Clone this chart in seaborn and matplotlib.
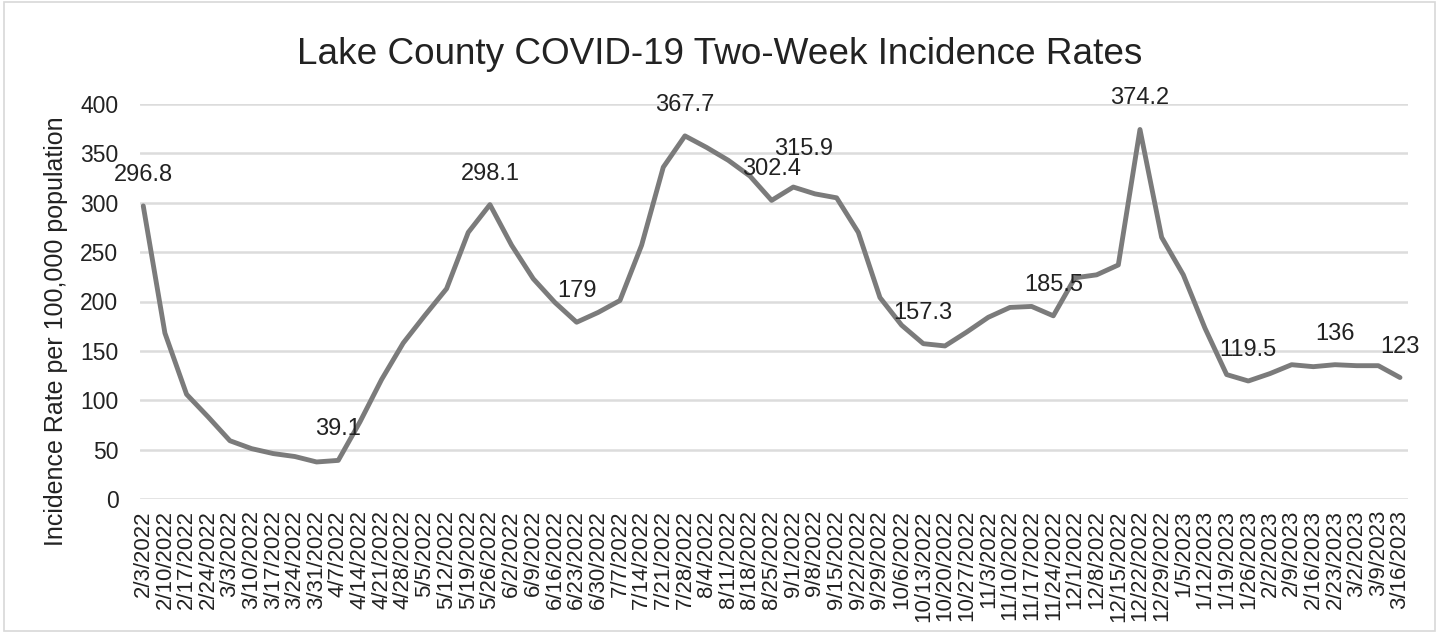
import matplotlib
matplotlib.use("Agg")
import matplotlib.pyplot as plt
import seaborn as sns
import pandas as pd
from matplotlib.patches import Rectangle

dates = ["2/3/2022", "2/10/2022", "2/17/2022", "2/24/2022", "3/3/2022", "3/10/2022",
         "3/17/2022", "3/24/2022", "3/31/2022", "4/7/2022", "4/14/2022", "4/21/2022",
         "4/28/2022", "5/5/2022", "5/12/2022", "5/19/2022", "5/26/2022", "6/2/2022",
         "6/9/2022", "6/16/2022", "6/23/2022", "6/30/2022", "7/7/2022", "7/14/2022",
         "7/21/2022", "7/28/2022", "8/4/2022", "8/11/2022", "8/18/2022", "8/25/2022",
         "9/1/2022", "9/8/2022", "9/15/2022", "9/22/2022", "9/29/2022", "10/6/2022",
         "10/13/2022", "10/20/2022", "10/27/2022", "11/3/2022", "11/10/2022", "11/17/2022",
         "11/24/2022", "12/1/2022", "12/8/2022", "12/15/2022", "12/22/2022", "12/29/2022",
         "1/5/2023", "1/12/2023", "1/19/2023", "1/26/2023", "2/2/2023", "2/9/2023",
         "2/16/2023", "2/23/2023", "3/2/2023", "3/9/2023", "3/16/2023"]

rates = [296.8, 168, 106, 83, 59, 51, 46, 43, 37.5, 39.1, 78, 121, 158, 186, 213, 270,
         298.1, 257, 223, 199, 179, 189, 201, 257, 336, 367.7, 356, 343, 327, 302.4,
         315.9, 309, 305, 270, 204, 176, 157.3, 155, 169, 184, 194, 195, 185.5, 224,
         227, 237, 374.2, 265, 227, 173, 126, 119.5, 127, 136, 134, 136, 135, 135, 123]

labeled_idx = [0, 9, 16, 20, 25, 29, 30, 36, 42, 46, 51, 55, 58]
label_text = ["296.8", "39.1", "298.1", "179", "367.7", "302.4", "315.9", "157.3",
              "185.5", "374.2", "119.5", "136", "123"]

title = "Lake County COVID-19 Two-Week Incidence Rates"
ylabel = "Incidence Rate per 100,000 population"
yticks = [0, 50, 100, 150, 200, 250, 300, 350, 400]

sns.set_theme(style="white")
plt.rcParams['font.family'] = ['Liberation Sans', 'DejaVu Sans']

df = pd.DataFrame({"idx": range(len(dates)), "rate": rates})

fig = plt.figure(figsize=(14.4, 6.33), dpi=100)
ax = fig.add_axes([140 / 1440, 1 - 499 / 633, (1408 - 140) / 1440, (499 - 104) / 633])

sns.lineplot(data=df, x="idx", y="rate", ax=ax, color="#7b7b7b", linewidth=3.5,
             solid_joinstyle="round", solid_capstyle="round")

ax.set_xlim(-0.15, 58.37)
ax.set_ylim(0, 400)
ax.set_yticks(yticks)
ax.set_yticklabels([str(v) for v in yticks], fontsize=16.5, color="#222222")
ax.set_xticks(range(len(dates)))
ax.set_xticklabels(dates, rotation=90, fontsize=16, color="#222222")
ax.tick_params(axis="both", length=0)
ax.tick_params(axis="y", pad=15.5)
ax.tick_params(axis="x", pad=8)
ax.grid(axis="y", color="#dcdcdc", linewidth=1.8)
ax.grid(axis="x", visible=False)
for s in ax.spines.values():
    s.set_visible(False)
ax.set_xlabel("")
ax.set_ylabel(ylabel, fontsize=18, color="#222222")
ax.yaxis.set_label_coords(68 / 1440, 1 - 331 / 633, transform=fig.transFigure)

for i, t in zip(labeled_idx, label_text):
    dx, dy = (0, 31)
    if t == "315.9":
        dx, dy = (10, 38)
    ax.annotate(t, (i, rates[i]), xytext=(dx, dy), textcoords="offset pixels",
                ha="center", va="center", fontsize=17, color="#222222")

fig.text(720 / 1440, 1 - 54 / 633, title, ha="center", va="center",
         fontsize=26.6, color="#222222")

fig.patches.append(Rectangle((4 / 1440, 2 / 633), 1431 / 1440, 629 / 633,
                             transform=fig.transFigure, fill=False,
                             edgecolor="#d8d8d8", linewidth=1.2))

fig.savefig("out.png", dpi=100, facecolor="white")
